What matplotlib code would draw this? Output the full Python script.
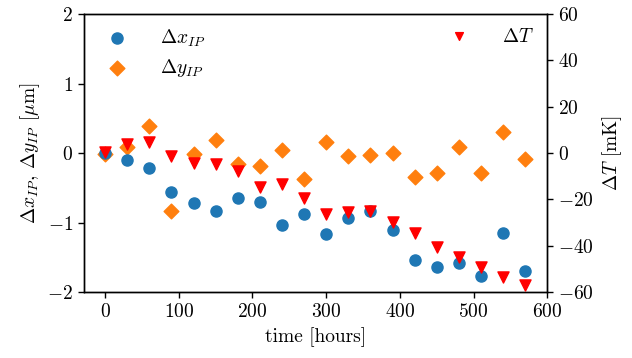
import matplotlib.pyplot as plt

plt.rcParams['font.family'] = 'serif'
plt.rcParams['font.serif'] = ['cmr10']
plt.rcParams['mathtext.fontset'] = 'cm'
plt.rcParams['axes.formatter.use_mathtext'] = True
plt.rcParams['font.size'] = 14

# time in hours
hours = [0, 30, 60, 90, 120, 150, 180, 210, 240, 270,
         300, 330, 360, 390, 420, 450, 480, 510, 540, 570]

# offsets in um
dx_ip = [0.0, -0.10, -0.22, -0.56, -0.72, -0.84, -0.64, -0.70, -1.04, -0.87,
         -1.16, -0.93, -0.83, -1.11, -1.54, -1.64, -1.58, -1.77, -1.15, -1.70]
dy_ip = [-0.01, 0.09, 0.39, -0.83, -0.02, 0.19, -0.16, -0.18, 0.04, -0.37,
         0.16, -0.04, -0.03, 0.0, -0.34, -0.28, 0.09, -0.28, 0.30, -0.08]

# temperature change in mK
d_temp = [0.5, 3.9, 4.9, -1.2, -4.4, -4.7, -7.8, -14.5, -13.4, -19.6,
          -26.5, -25.6, -25.0, -29.7, -34.7, -40.4, -45.0, -49.0, -53.4, -57.0]

fig, ax = plt.subplots(figsize=(6.32, 3.58), dpi=100)
fig.subplots_adjust(left=0.133, right=0.866, bottom=0.184, top=0.961)

ax.scatter(hours, dx_ip, s=64, marker='o', color='#1f77b4', label=r'$\Delta x_{IP}$', zorder=3)
ax.scatter(hours, dy_ip, s=56, marker='D', color='#ff7f0e', label=r'$\Delta y_{IP}$', zorder=2)
ax.set_ylim(-2, 2)
ax.set_yticks([-2, -1, 0, 1, 2])
ax.set_xlim(-28.5, 600)
ax.set_xlabel('time [hours]')
ax.set_ylabel(r'$\Delta x_{IP}$, $\Delta y_{IP}$ [$\mu$m]')
ax.legend(loc='upper left', frameon=False, handletextpad=1.2, borderaxespad=0.3,
          labelspacing=0.4)

ax2 = ax.twinx()
ax2.scatter(hours, d_temp, s=64, marker='v', color='red', label=r'$\Delta T$', zorder=4)
ax2.set_ylim(-60, 60)
ax2.set_ylabel(r'$\Delta T$ [mK]')
ax2.legend(loc='upper right', frameon=False, handletextpad=1.2, borderaxespad=0.3,
           markerscale=0.7)

for a in (ax, ax2):
    a.tick_params(length=4.5, width=1)
    for s in a.spines.values():
        s.set_linewidth(1)

fig.savefig('out.png', dpi=100)
